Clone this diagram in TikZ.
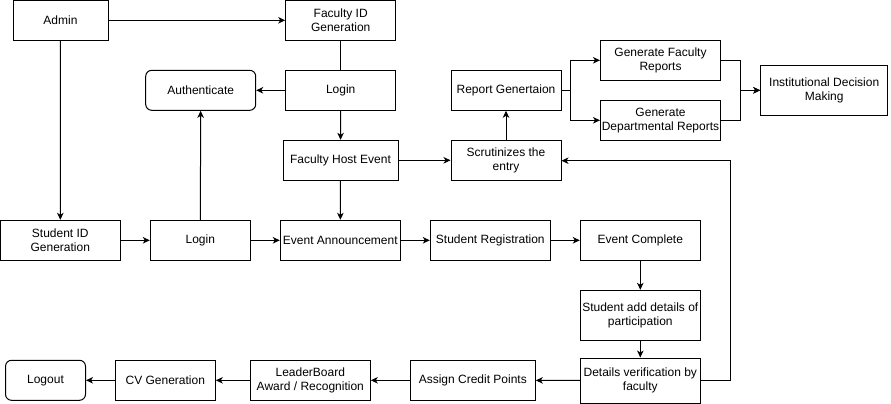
\documentclass[tikz,border=0pt]{standalone}
\usepackage{fontspec}
\setmainfont{Liberation Sans}
\usetikzlibrary{arrows.meta}
\begin{document}
\begin{tikzpicture}[x=1pt,y=-1pt,
  box/.style={draw=black,line width=1pt,fill=white,inner sep=0pt,align=center,
    font=\fontsize{12}{14}\selectfont,minimum height=40pt},
  rbox/.style={box,rounded corners=6pt},
  conn/.style={line width=1pt,-{Stealth[length=7pt,width=6.5pt,inset=2pt]}},
  plain/.style={line width=1pt}]
\useasboundingbox (0,0) rectangle (891,404);
% top area
\node[box,minimum width=95pt] (admin) at (60.5,20.3) {Admin};
\node[box,minimum width=110pt] (fid) at (340.7,20.3) {Faculty ID\\Generation};
\node[rbox,minimum width=110pt] (auth) at (200.7,90.3) {Authenticate};
\node[box,minimum width=110pt] (flogin) at (340.7,90.3) {Login};
\node[box,minimum width=115pt] (fhe) at (340.5,160.3) {Faculty Host Event};
\node[box,minimum width=110pt] (scr) at (506,160.7) {Scrutinizes the\\entry};
\node[box,minimum width=110pt] (rep) at (506,90.3) {Report Genertaion};
\node[box,minimum width=120pt] (gf) at (660.5,60.3) {Generate Faculty\\Reports};
\node[box,minimum width=120pt] (gd) at (660.5,120.3) {Generate\\Departmental Reports};
\node[box,minimum width=127pt,minimum height=50pt] (idm) at (824.2,90.3) {Institutional Decision\\Making};
% middle row
\node[box,minimum width=120pt] (sid) at (60.3,240.3) {Student ID\\Generation};
\node[box,minimum width=100pt] (slogin) at (200.3,240.3) {Login};
\node[box,minimum width=120pt] (ea) at (340.3,240.3) {Event Announcement};
\node[box,minimum width=120pt] (sr) at (490.3,240.3) {Student Registration};
\node[box,minimum width=120pt] (ec) at (640.3,240.3) {Event Complete};
\node[box,minimum width=120pt,minimum height=50pt] (sad) at (640.3,315.3) {Student add details of\\participation};
\node[box,minimum width=120pt,minimum height=45pt] (dv) at (640.3,380.5) {Details verification by\\faculty};
% bottom row
\node[box,minimum width=125pt] (acp) at (472.8,380.3) {Assign Credit Points};
\node[box,minimum width=120pt] (lb) at (310.3,380.3) {LeaderBoard\\Award / Recognition};
\node[box,minimum width=100pt] (cv) at (165.3,380.3) {CV Generation};
\node[rbox,minimum width=80pt] (logout) at (45.5,380.3) {Logout};
% helper coordinates
\coordinate (b1) at (570,90.3);
\coordinate (m1) at (740.7,90.3);
\coordinate (c1) at (730.3,160.7);
% connectors
\draw[conn] (admin) -- (fid);
\draw[conn] (admin) -- (sid);
\draw[plain] (fid) -- (flogin);
\draw[conn] (flogin) -- (auth);
\draw[conn] (flogin) -- (fhe);
\draw[conn] (fhe.east) -- (scr.west |- fhe.east);
\draw[conn] (fhe) -- (ea);
\draw[conn] (scr) -- (rep);
\draw[plain] (rep.east) -- (b1);
\draw[conn] (b1) |- (gf.west);
\draw[conn] (b1) |- (gd.west);
\draw[conn] (gf.east) -| (m1) -- (idm.west);
\draw[conn] (gd.east) -| (m1) -- (idm.west);
\draw[conn] (sid) -- (slogin);
\draw[conn] (slogin) -- (auth);
\draw[conn] (slogin) -- (ea);
\draw[conn] (ea) -- (sr);
\draw[conn] (sr) -- (ec);
\draw[conn] (ec) -- (sad);
\draw[conn] (sad) -- (dv);
\draw[conn] (dv.east) -| (c1) -- (scr.east);
\draw[conn] (dv) -- (acp);
\draw[conn] (acp) -- (lb);
\draw[conn] (lb) -- (cv);
\draw[conn] (cv) -- (logout);
\end{tikzpicture}
\end{document}
